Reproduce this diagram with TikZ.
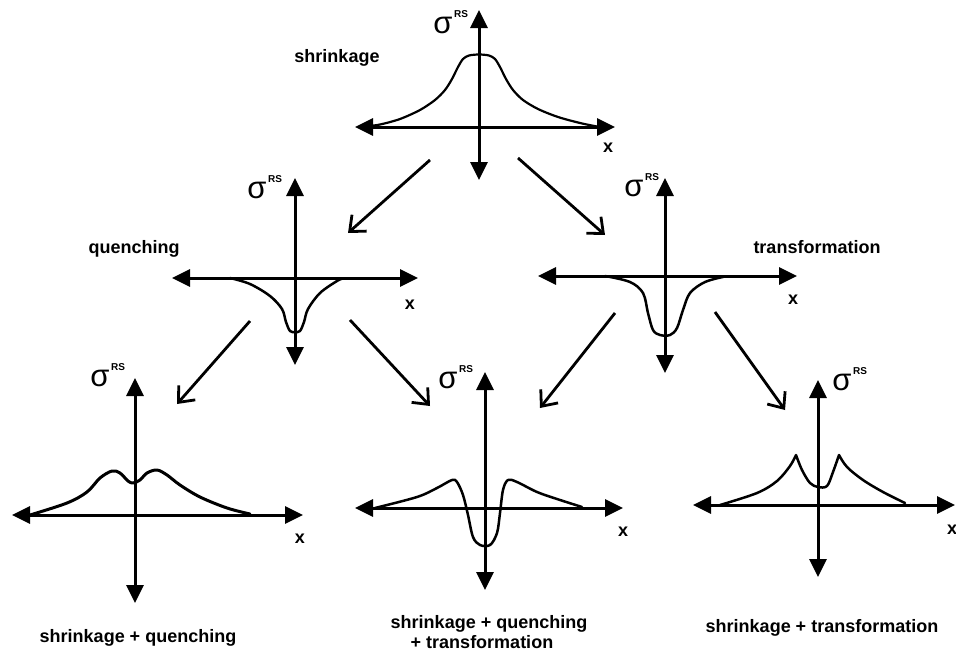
\documentclass[tikz,border=0pt]{standalone}
\usepackage{fontspec}
\setmainfont{Liberation Sans}
\usetikzlibrary{arrows.meta}
\newcommand\plotaxes[7]{%
  \coordinate (#1-l) at (#2,#4);
  \coordinate (#1-r) at (#3,#4);
  \coordinate (#1-t) at (#5,#6);
  \coordinate (#1-b) at (#5,#7);
  \draw[axis] (#1-l) -- (#1-r);
  \draw[axis] (#1-t) -- (#1-b);
}
\newcommand\sigmalabel[3]{%
  \node[sig] (#1) at (#2,#3) {σ};
  \node[rs] (#1-rs) at ([xshift=18pt,yshift=11pt]#1.center) {RS};
}
\begin{document}
\begin{tikzpicture}[x=1pt,y=-1pt,
  axis/.style={line width=3pt,{Triangle[length=18pt,width=17pt]}-{Triangle[length=18pt,width=17pt]}},
  curve/.style={line width=2.5pt,line join=round,line cap=round},
  conn/.style={line width=2.8pt,-{Straight Barb[length=13pt,width=22pt,line width=2.8pt]}},
  lbl/.style={font=\fontsize{18}{20}\selectfont\bfseries,anchor=base,inner sep=0pt},
  xl/.style={font=\fontsize{18}{18}\selectfont\bfseries,inner sep=0pt},
  sig/.style={font=\fontsize{31}{31}\selectfont,inner sep=0pt},
  rs/.style={font=\fontsize{10}{10}\selectfont\bfseries,inner sep=0pt}]
\useasboundingbox (0,0) rectangle (956,653);

% ---------- axes ----------
\plotaxes{p1}{355}{615}{127}{479}{10}{180}
\plotaxes{p2}{172}{418}{278}{295}{178}{365}
\plotaxes{p3}{538}{797}{276}{665}{178}{373}
\plotaxes{p4}{12}{303}{515}{135}{378}{603}
\plotaxes{p5}{355}{623}{508}{485}{372}{590}
\plotaxes{p6}{693}{955}{505}{818}{380}{577}

% ---------- curves ----------
\draw[curve,line width=2.2pt] plot[smooth,tension=0.5] coordinates {(362,127) (380,124.5) (400,119) (420,110) (435,100) (445,90) (452,79) (458,67) (463,59) (469,55.5) (479,54.5) (489,55.5) (495,59) (500,67) (506,79) (513,90) (523,100) (538,109) (558,117) (580,123) (597,126.5)};
\draw[curve] plot[smooth,tension=0.55] coordinates {(230,278) (250,284) (270,296) (282,309) (286,322) (290,331) (295,332) (300,331) (304,322) (308,309) (320,293) (337,281) (343,278.5)};
\draw[curve] plot[smooth,tension=0.55] coordinates {(605,276) (630,282) (643,293) (648,313) (653,330) (660,335) (670,335) (677,328) (683,310) (690,293) (705,282) (725,276.5)};
\draw[curve,line width=3pt] plot[smooth,tension=0.55] coordinates {(30,515) (67,503) (87,492) (100,478) (112,471) (120,473) (128,481) (133,483) (140,480) (147,473) (157,470) (167,475) (180,485) (200,497) (227,508) (250,514)};
\draw[curve] plot[smooth,tension=0.55] coordinates {(375,508) (417,497) (437,488) (452,480) (457,482) (463,495) (468,515) (473,537) (480,545) (490,545) (497,533) (500,513) (503,490) (508,480) (517,482) (537,492) (557,499) (582,507)};
\draw[curve] plot[smooth,tension=0.55] coordinates {(720,505) (757,493) (777,481) (790,466) (796,455)}
  -- plot[smooth,tension=0.55] coordinates {(796,455) (802,470) (810,483) (818,487) (827,486) (833,472) (839,455)}
  -- plot[smooth,tension=0.55] coordinates {(839,455) (847,467) (863,480) (883,492) (905,503)};

% ---------- sigma labels ----------
\sigmalabel{s1}{443}{25}
\sigmalabel{s2}{257}{190}
\sigmalabel{s3}{634}{188}
\sigmalabel{s4}{100}{378}
\sigmalabel{s5}{448}{380}
\sigmalabel{s6}{842}{382}

% ---------- x labels ----------
\node[xl] (x1) at (608,148) {x};
\node[xl] (x2) at (410,305) {x};
\node[xl] (x3) at (793,300) {x};
\node[xl] (x4) at (300,539) {x};
\node[xl] (x5) at (623,532) {x};
\node[xl] (x6) at (952,530) {x};

% ---------- text labels ----------
\node[lbl] (t1) at (337,62) {shrinkage};
\node[lbl] (t2) at (134,253) {quenching};
\node[lbl] (t3) at (817,253) {transformation};
\node[lbl] (t4) at (138,642) {shrinkage + quenching};
\node[lbl] (t5a) at (489,628) {shrinkage + quenching};
\node[lbl] (t5b) at (482,648) {+ transformation};
\node[lbl] (t6) at (822,632) {shrinkage + transformation};

% ---------- connectors ----------
\coordinate (a1s) at (430,160); \coordinate (a1e) at (348,233);
\coordinate (a2s) at (518,158); \coordinate (a2e) at (605,235);
\coordinate (a3s) at (250,321); \coordinate (a3e) at (177,404);
\coordinate (a4s) at (350,320); \coordinate (a4e) at (430,406);
\coordinate (a5s) at (615,313); \coordinate (a5e) at (540,408);
\coordinate (a6s) at (715,312); \coordinate (a6e) at (785,410);
\draw[conn] (a1s) -- (a1e);
\draw[conn] (a2s) -- (a2e);
\draw[conn] (a3s) -- (a3e);
\draw[conn] (a4s) -- (a4e);
\draw[conn] (a5s) -- (a5e);
\draw[conn] (a6s) -- (a6e);
\end{tikzpicture}
\end{document}
